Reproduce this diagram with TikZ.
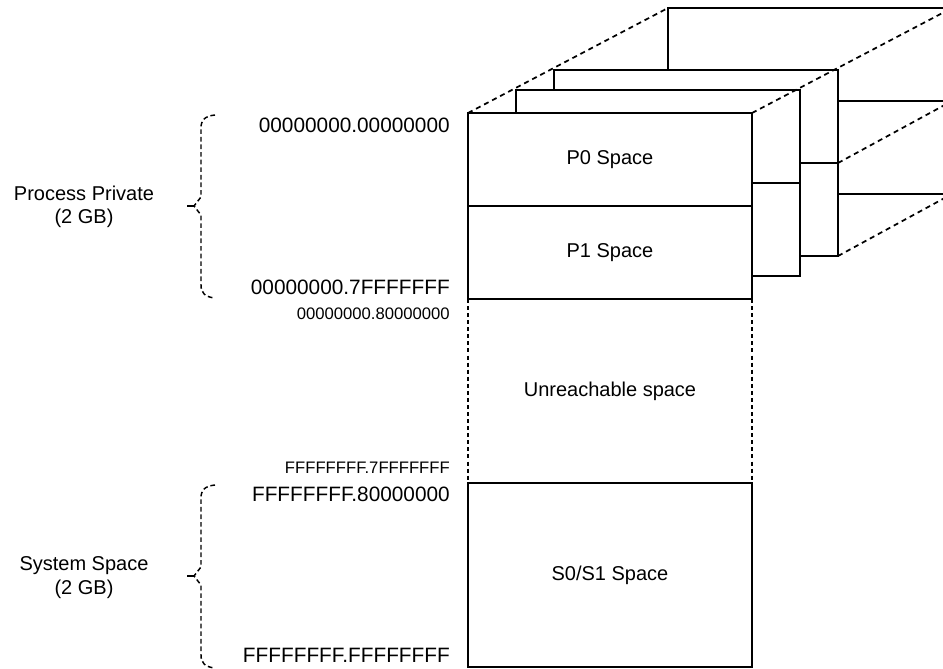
\documentclass[tikz,border=0pt]{standalone}
\usepackage{fontspec}
\setmainfont{Liberation Sans}
\usetikzlibrary{positioning}

\tikzset{
  spacebox/.style={draw, fill=white, line width=1.4pt, minimum width=213pt,
    minimum height=69.75pt, inner sep=0pt, outer sep=0pt,
    font=\fontsize{15}{18}\selectfont},
  widebox/.style={spacebox, minimum height=138pt},
  pagebox/.style={spacebox, minimum height=139.5pt},
  addr/.style={anchor=east, inner sep=0pt, font=\fontsize{15.6}{18}\selectfont},
  smalladdr/.style={anchor=east, inner sep=0pt, font=\fontsize{12.5}{15}\selectfont},
  region/.style={align=center, inner sep=0pt, font=\fontsize{15}{17.5}\selectfont},
  persp/.style={line width=1.3pt, dash pattern=on 3.8pt off 3pt},
  sidedash/.style={line width=1.4pt, dash pattern=on 3pt off 2.3pt},
  bracket/.style={line width=1.1pt, dash pattern=on 3.5pt off 2.2pt}
}

\begin{document}
\begin{tikzpicture}[x=0.75pt, y=-0.75pt]
  \useasboundingbox (0,0) rectangle (943,668);
  \clip (0,0) rectangle (943,668);
  % pages behind
  \foreach \n/\px/\py in {3/810/101, 2/696/163, 1/658/183}{
    \node[pagebox] (page\n) at (\px,\py) {};
    \draw[line width=1.4pt] (page\n.west) -- (page\n.east);
  }
  % front page
  \node[spacebox] (p0) at (610,159.5) {P0 Space};
  \node[spacebox, below=0pt of p0] (p1) {P1 Space};
  \node[widebox, draw=none, fill=none, below=0pt of p1] (unreach) {Unreachable space};
  \node[widebox, below=0pt of unreach] (s01) {S0/S1 Space};
  \draw[sidedash] (unreach.north west) -- (unreach.south west);
  \draw[sidedash] (unreach.north east) -- (unreach.south east);
  % perspective
  \draw[persp] (p0.north west) -- (page3.north west);
  \draw[persp] (p0.north east) -- (page3.north east);
  \draw[persp] (page2.east) -- (page3.east);
  \draw[persp] (page2.south east) -- (page3.south east);
  % addresses
  \node[addr] (a0) at (450,125) {00000000.00000000};
  \node[addr] (a1) at (450,287) {00000000.7FFFFFFF};
  \node[smalladdr] (a2) at (450,314) {00000000.80000000};
  \node[smalladdr] (a3) at (450,468) {FFFFFFFF.7FFFFFFF};
  \node[addr] (a4) at (450,494) {FFFFFFFF.80000000};
  \node[addr] (a5) at (450,655) {FFFFFFFF.FFFFFFFF};
  % braces
  \node[region] (proc) at (84,206.5) {Process Private\\(2 GB)};
  \node[region] (sys) at (84,577.5) {System Space\\(2 GB)};
  \foreach \sh in {0,370}{
    \begin{scope}[shift={(0,\sh)}]
      \draw[bracket] (215,115) .. controls (205,116) and (201,120) .. (201,128)
        -- (201,197) -- (194,206) -- (201,215) -- (201,285)
        .. controls (201,293) and (205,297) .. (215,298);
      \draw[line width=1.1pt] (194,206) -- (187,206);
    \end{scope}
  }
\end{tikzpicture}
\end{document}
